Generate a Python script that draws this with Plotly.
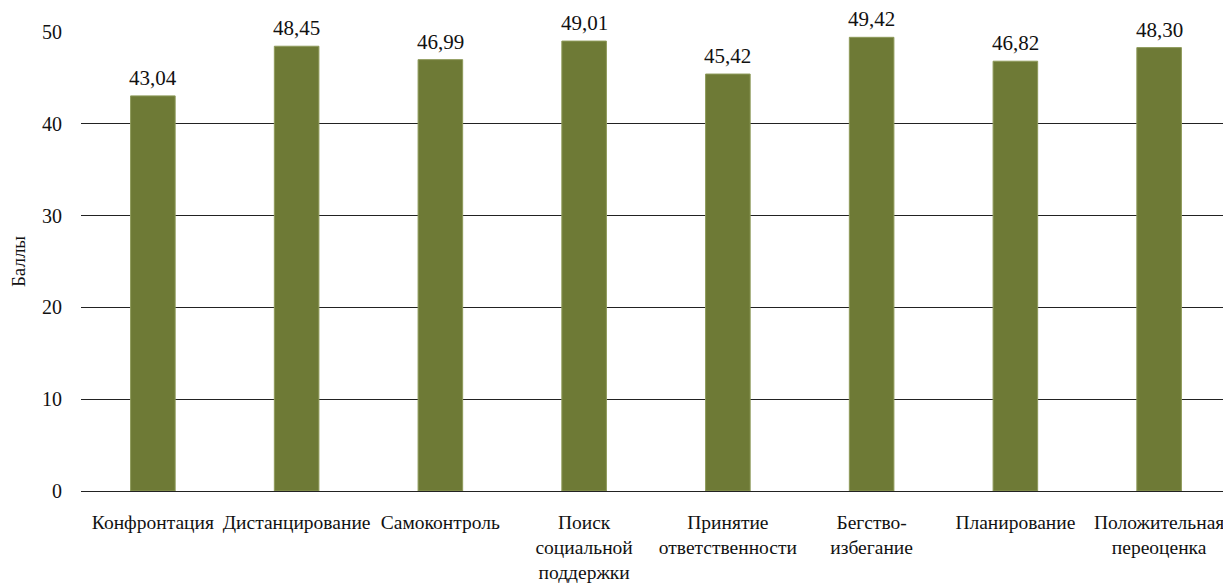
import plotly.graph_objects as go

categories = ["Конфронтация", "Дистанцирование", "Самоконтроль",
              "Поиск<br>социальной<br>поддержки", "Принятие<br>ответственности",
              "Бегство-<br>избегание", "Планирование", "Положительная<br>переоценка"]
values = [43.04, 48.45, 46.99, 49.01, 45.42, 49.42, 46.82, 48.30]
y_ticks = [0, 10, 20, 30, 40, 50]
y_title = "Баллы"

FONT = "Liberation Serif, DejaVu Serif, serif"
labels = [f"{v:.2f}".replace(".", ",") for v in values]

fig = go.Figure()
fig.add_trace(go.Bar(
    x=categories, y=values,
    marker=dict(color="#6e7a36", line=dict(color="#8e9a5a", width=1)),
    width=0.31,
    hoverinfo="skip",
))

for c, v, t in zip(categories, values, labels):
    fig.add_annotation(x=c, y=v, text=t, showarrow=False, yanchor="bottom",
                       yshift=5, borderpad=0,
                       font=dict(family=FONT, size=21, color="#111111"))

fig.update_layout(
    width=1223, height=576,
    margin=dict(l=73, r=0, t=24, b=93),
    paper_bgcolor="white", plot_bgcolor="white",
    showlegend=False,
    font=dict(family=FONT, size=19, color="#111111"),
)
fig.update_xaxes(
    tickfont=dict(family=FONT, size=19.5, color="#111111"),
    showgrid=False, showline=False, ticks="",
    ticklabelstandoff=17,
)
fig.update_yaxes(
    range=[0, 50], tickvals=y_ticks,
    tickfont=dict(family=FONT, size=20, color="#111111"),
    showgrid=True, gridcolor="#222222", gridwidth=1,
    zeroline=True, zerolinecolor="#222222", zerolinewidth=1,
    showline=False, ticks="", ticklabelstandoff=18,
    title=dict(text=y_title, font=dict(family=FONT, size=19, color="#111111"), standoff=20),
)

fig.write_html("out.html")
